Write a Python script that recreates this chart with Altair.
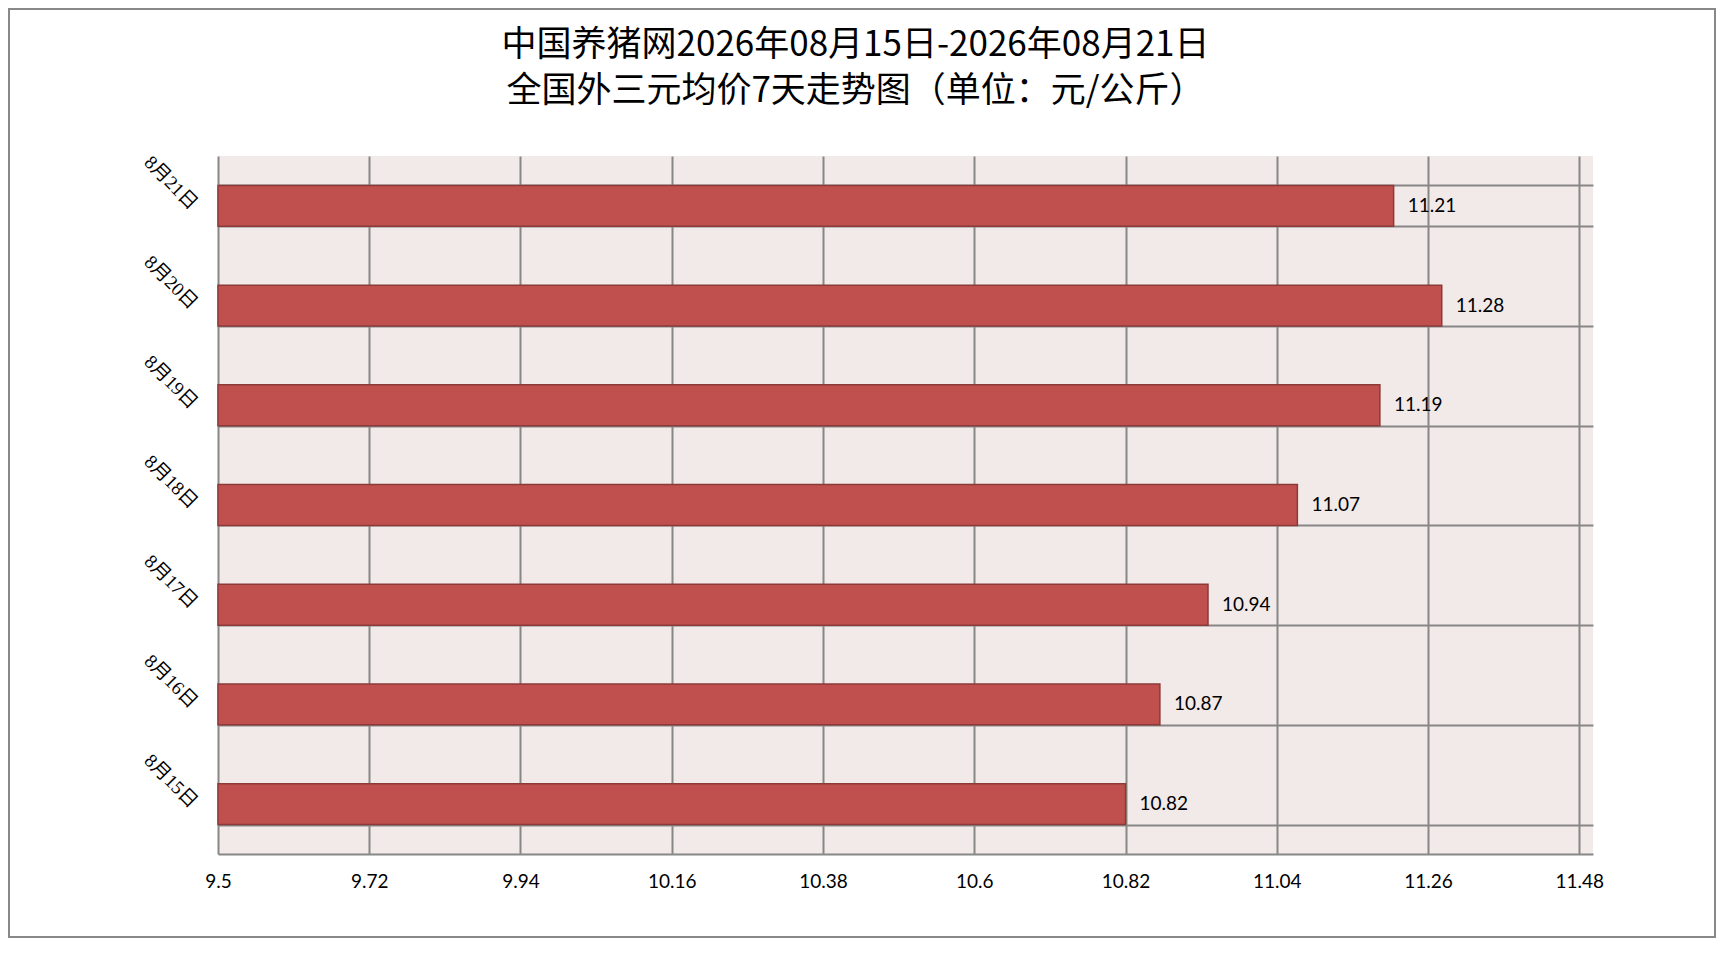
import altair as alt
import pandas as pd

dates = ["8月15日", "8月16日", "8月17日", "8月18日", "8月19日", "8月20日", "8月21日"]
prices = [10.82, 10.87, 10.94, 11.07, 11.19, 11.28, 11.21]
x_ticks = [9.5, 9.72, 9.94, 10.16, 10.38, 10.6, 10.82, 11.04, 11.26, 11.48]
title_lines = ["中国养猪网2026年08月15日-2026年08月21日", "全国外三元均价7天走势图（单位：元/公斤）"]

df = pd.DataFrame({"date": dates, "price": prices})
order = list(reversed(dates))

W, H = 1375, 698
PL, PT, PR, PB = 210, 148, 123, 84
GRID = "#878787"

y_enc = alt.Y(
    "date:N",
    sort=order,
    scale=alt.Scale(paddingInner=0.59, paddingOuter=0.295),
    axis=alt.Axis(
        title=None, tickBand="extent", grid=True, gridColor=GRID, gridWidth=2,
        ticks=False, domain=False, labelAngle=45, labelAlign="right",
        labelBaseline="middle", labelPadding=24,
        labelFont="Liberation Serif, Noto Sans CJK SC", labelFontSize=19,
        labelColor="black",
    ),
)
x_enc = alt.X(
    "price:Q",
    scale=alt.Scale(domain=[9.5, 11.5], zero=False, nice=False),
    axis=alt.Axis(
        title=None, values=x_ticks, grid=True, gridColor=GRID, gridWidth=2,
        ticks=False, domainColor=GRID, domainWidth=2, labelFont="Lato",
        labelFontSize=19, labelPadding=18, labelColor="black",
        labelExpr="'' + datum.value", labelOverlap=False, labelFlush=False,
    ),
)

bars = alt.Chart(df).mark_bar(color="#C0504D", stroke="#8C3A38", strokeWidth=1.5).encode(
    y=y_enc, x=x_enc, x2=alt.datum(9.5)
)
labels = alt.Chart(df).mark_text(
    align="left", baseline="middle", dx=14, font="Lato", fontSize=19, color="black"
).encode(y=alt.Y("date:N", sort=order), x="price:Q", text=alt.Text("price:Q", format=".2f"))

border = alt.Chart(pd.DataFrame({"k": [0]})).mark_rect(
    fill="transparent", stroke="#888888", strokeWidth=2
).encode(
    x=alt.value(-PL + 1), x2=alt.value(W + PR - 1),
    y=alt.value(-PT + 1), y2=alt.value(H + PB - 1),
)

chart = alt.layer(border, bars, labels).properties(
    width=W, height=H,
    autosize=alt.AutoSizeParams(type="none"),
    padding={"left": PL, "top": PT, "right": PR, "bottom": PB},
    background="white",
    title=alt.TitleParams(
        text=title_lines, font="Noto Sans CJK SC", fontSize=35, fontWeight="normal",
        lineHeight=46, color="black", anchor="middle", offset=-101, dx=-50,
    ),
).configure_view(fill="#F2E9E9", strokeWidth=0)

chart.save("out.html", embed_options={"renderer": "svg", "actions": False})
